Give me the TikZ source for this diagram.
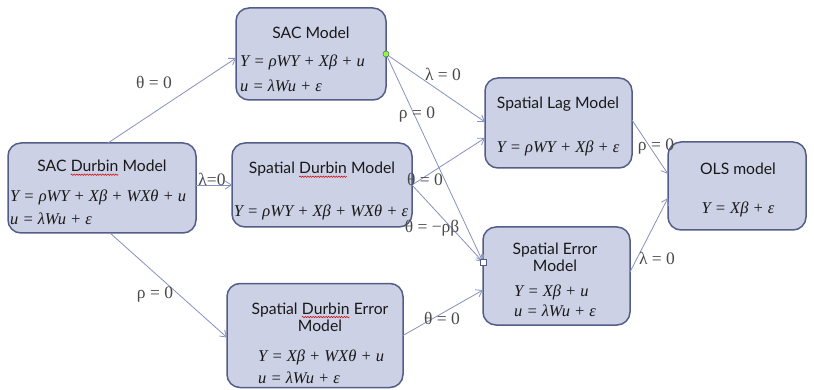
\documentclass[tikz,border=0pt]{standalone}
\usepackage{fontspec}
\usetikzlibrary{arrows.meta,decorations.pathmorphing}
\setsansfont{Lato}
\newfontfamily\labfont{Liberation Serif}
\definecolor{boxfill}{HTML}{CDD1E6}
\definecolor{boxdraw}{HTML}{535D88}
\definecolor{arr}{HTML}{8591BE}
\definecolor{labcol}{HTML}{4A4A4A}
\newcommand\sqz[1]{\tikz[baseline=(sqw.base)]{\node[inner sep=0pt, outer sep=0pt, anchor=base] (sqw) at (0pt,0pt) {#1};\draw[red!85!black, line width=0.5pt, decorate, decoration={snake, amplitude=0.7pt, segment length=2.6pt}] ([yshift=-2.8pt]sqw.base west) -- ([yshift=-2.8pt]sqw.base east);}}
\tikzset{
  mbox/.style={draw=boxdraw, fill=boxfill, line width=1.5pt, rounded corners=13pt, inner sep=0pt, outer sep=0pt},
  ttl/.style={font=\sffamily\fontsize{15.7}{18}\selectfont, text=black!90, inner sep=0pt, align=center},
  eq/.style={font=\labfont\itshape\fontsize{16.5}{18}\selectfont, text=black!90, inner sep=0pt},
  lab/.style={font=\labfont\fontsize{17.5}{19}\selectfont, text=labcol, inner sep=1pt},
  conn/.style={draw=arr, line width=0.8pt, -{Straight Barb[length=6pt,width=8pt]}},
}
\begin{document}
\begin{tikzpicture}[x=1pt,y=-1pt]
\useasboundingbox (0,0) rectangle (814,390);
% boxes
\node[mbox, minimum width=188pt, minimum height=90pt] (sacd) at (102,188) {};
\node[mbox, minimum width=150pt, minimum height=92pt] (sac) at (311,54) {};
\node[mbox, minimum width=180pt, minimum height=84pt] (sd) at (322,185) {};
\node[mbox, minimum width=176pt, minimum height=104pt] (sde) at (315,335.5) {};
\node[mbox, minimum width=147pt, minimum height=90pt] (sl) at (558.5,123) {};
\node[mbox, minimum width=147pt, minimum height=98pt] (se) at (556.5,276) {};
\node[mbox, minimum width=138pt, minimum height=88pt] (ols) at (737,186) {};
% texts
\node[ttl] (t1) at (102,168) {SAC \sqz{Durbin} Model};
\node[eq, anchor=west] (e1a) at (10,197) {Y = ρWY + Xβ + WXθ + u};
\node[eq, anchor=west] (e1b) at (10,219) {u = λWu + ε};
\node[ttl] (t2) at (311,33) {SAC Model};
\node[eq, anchor=west] (e2a) at (240,62) {Y = ρWY + Xβ + u};
\node[eq, anchor=west] (e2b) at (240,86) {u = λWu + ε};
\node[ttl] (t3) at (322,170) {Spatial \sqz{Durbin} Model};
\node[eq] (e3) at (321,212) {Y = ρWY + Xβ + WXθ + ε};
\node[ttl] (t4) at (320,317) {Spatial \sqz{Durbin} Error\\[-1pt]Model};
\node[eq, anchor=west] (e4a) at (258,357) {Y = Xβ + WXθ + u};
\node[eq, anchor=west] (e4b) at (258,378) {u = λWu + ε};
\node[ttl] (t5) at (558,104) {Spatial Lag Model};
\node[eq] (e5) at (558,148) {Y = ρWY + Xβ + ε};
\node[ttl] (t6) at (555,257) {Spatial Error\\[-1pt]Model};
\node[eq, anchor=west] (e6a) at (514,292) {Y = Xβ + u};
\node[eq, anchor=west] (e6b) at (514,311) {u = λWu + ε};
\node[ttl] (t7) at (738,169) {OLS model};
\node[eq] (e7) at (738,209) {Y = Xβ + ε};
% connectors
\draw[conn] ([xshift=6pt]sacd.north) -- ([yshift=-4pt]sac.west);
\draw[conn] (sd.west -| sacd.east) -- (sd.west);
\draw[conn] ([xshift=8pt]sacd.south) -- ([yshift=-2pt]sde.west);
\draw[conn] (sac.east) -- ([yshift=1pt]sl.west);
\draw[conn] (sac.east) -- ([yshift=14pt]se.west);
\draw[conn] (sd.east) -- ([yshift=-15pt]sl.west);
\draw[conn] (sd.east) -- ([yshift=14pt]se.west);
\draw[conn] (sde.east) -- ([yshift=-14pt]se.west);
\draw[conn] ([yshift=3pt]sl.east) -- ([yshift=12pt]ols.west);
\draw[conn] ([yshift=4pt]se.east) -- ([yshift=-12pt]ols.west);
% markers
\node[circle, fill=green!55!yellow!80!white, draw=boxdraw, line width=0.5pt, minimum size=6pt, inner sep=0pt] (dot) at (sac.east) {};
\node[rectangle, fill=white, draw=boxdraw, line width=0.5pt, minimum size=6pt, inner sep=0pt] (sq) at ([yshift=14pt]se.west) {};
% labels
\node[lab] (l1) at (154,82) {θ = 0};
\node[lab] (l2) at (212,179) {λ=0};
\node[lab] (l3) at (155,295) {ρ = 0};
\node[lab] (l4) at (443,74) {λ = 0};
\node[lab] (l5) at (417,115) {ρ = 0};
\node[lab] (l6) at (425,179) {θ = 0};
\node[lab] (l7) at (432,228) {θ = −ρβ};
\node[lab] (l8) at (442,318) {θ = 0};
\node[lab] (l9) at (656,147) {ρ = 0};
\node[lab] (l10) at (657,258) {λ = 0};
\end{tikzpicture}
\end{document}
